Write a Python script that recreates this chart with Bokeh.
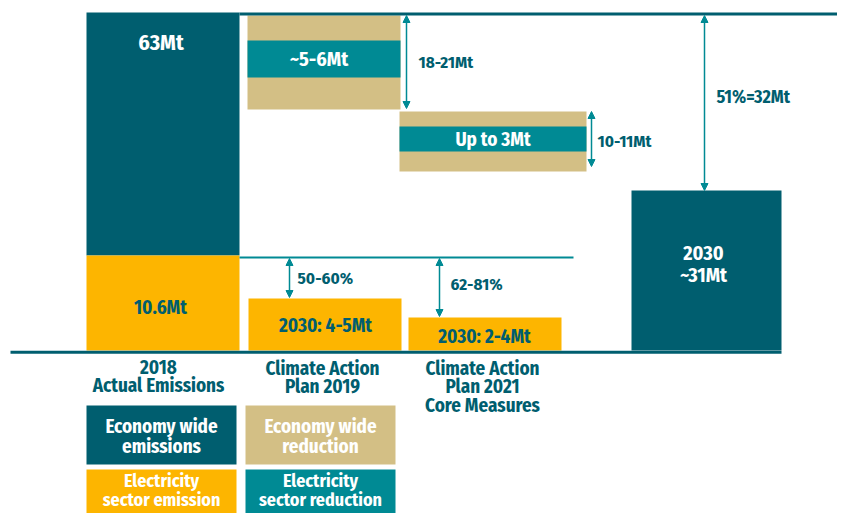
from bokeh.plotting import figure
from bokeh.models import ColumnDataSource, Range1d, Arrow, NormalHead
from bokeh.core.properties import value
from bokeh.embed import file_html
from bokeh.resources import INLINE

# ---------------- data (schematic heights above the baseline) ----------------
categories = ["2018\nActual Emissions", "Climate Action\nPlan 2019",
              "Climate Action\nPlan 2021\nCore Measures"]
economy_2018 = 338          # 63Mt
elec_2018 = 95              # 10.6Mt
reduction_top = [335, 239]  # economy wide reduction (CAP 2019, CAP 2021)
reduction_bottom = [241, 179]
elec_red_top = [310, 224]   # electricity sector reduction band
elec_red_bottom = [273, 199]
target_2030 = 160           # ~31Mt
elec_2030 = [52, 33]        # 2030: 4-5Mt, 2030: 2-4Mt
economy_labels = ["63Mt", "~5-6Mt", "Up to 3Mt", "2030\n~31Mt"]
elec_labels = ["10.6Mt", "2030: 4-5Mt", "2030: 2-4Mt"]
gap_labels = ["18-21Mt", "10-11Mt", "51%=32Mt"]
pct_labels = ["50-60%", "62-81%"]
legend_labels = ["Economy wide\nemissions", "Economy wide\nreduction",
                 "Electricity\nsector emission", "Electricity\nsector reduction"]

# ---------------- styles / layout ----------------
DARK = "#005E6F"
TEAL = "#008A94"
TAN = "#D3BF85"
YEL = "#FDB500"
FONT = value("Fira Sans Condensed")

W, H = 837, 513
p = figure(width=W, height=H, output_backend="svg", toolbar_location=None,
           x_range=Range1d(0, W), y_range=Range1d(350 - H, 350),
           min_border=0, outline_line_color=None, background_fill_color="white",
           border_fill_color="white")
p.axis.visible = False
p.grid.visible = False

# column layout (left, right)
bar18 = (86, 239)
cap_tan = [(247, 400), (399, 586)]
cap_el = [(248, 401), (408, 561)]
bar30 = (631, 781)

# economy bars
p.quad(left=[bar18[0], bar30[0]], right=[bar18[1], bar30[1]],
       bottom=[elec_2018, 0], top=[economy_2018, target_2030],
       fill_color=DARK, line_color=None)
p.quad(left=[c[0] for c in cap_tan], right=[c[1] for c in cap_tan],
       bottom=reduction_bottom, top=reduction_top, fill_color=TAN, line_color=None)
p.quad(left=[c[0] for c in cap_tan], right=[c[1] for c in cap_tan],
       bottom=elec_red_bottom, top=elec_red_top, fill_color=TEAL, line_color=None)
# electricity bars
p.quad(left=[bar18[0]] + [c[0] for c in cap_el], right=[bar18[1]] + [c[1] for c in cap_el],
       bottom=[0, 0, 0], top=[elec_2018] + elec_2030, fill_color=YEL, line_color=None)

# reference lines
p.line([bar18[1], W], [economy_2018 - 1.5] * 2, line_color=DARK, line_width=3)
p.line([bar18[1], 573], [elec_2018 - 2] * 2, line_color=TEAL, line_width=2)
p.line([10, bar30[1]], [-1.7, -1.7], line_color=DARK, line_width=3)

# arrows
top_ref = reduction_top[0]
ax = [406, 591, 704, 289, 439]
ys = [top_ref, reduction_top[1], top_ref, elec_2018 - 3, elec_2018 - 3]
ye = [reduction_bottom[0] + 1, reduction_bottom[1] + 5, target_2030, elec_2030[0] + 1, elec_2030[1] + 1]
asrc = ColumnDataSource(dict(x0=ax, y0=ys, x1=ax, y1=ye))
p.add_layout(Arrow(source=asrc, x_start="x0", y_start="y0", x_end="x1", y_end="y1",
                   line_color=TEAL, line_width=1.5,
                   start=NormalHead(size=7, fill_color=TEAL, line_color=TEAL, line_width=1),
                   end=NormalHead(size=7, fill_color=TEAL, line_color=TEAL, line_width=1)))

# white labels in economy boxes
ex = [(bar18[0] + bar18[1]) / 2 - 2, (cap_tan[0][0] + cap_tan[0][1]) / 2 - 5,
      (cap_tan[1][0] + cap_tan[1][1]) / 2, (bar30[0] + bar30[1]) / 2 - 3]
ey = [economy_2018 - 30, (elec_red_top[0] + elec_red_bottom[0]) / 2,
      (elec_red_top[1] + elec_red_bottom[1]) / 2, target_2030 * 0.54]
p.text(x=ex, y=ey, text=economy_labels, text_color="white", text_font=FONT,
       text_font_style="bold", text_font_size=["22px", "20px", "19px", "20px"],
       text_align="center", text_baseline="middle", text_line_height=0.95)

# electricity labels
lx = [160, 325, 484]
ly = [elec_2018 * 0.45, elec_2030[0] * 0.48, elec_2030[1] * 0.42]
p.text(x=lx, y=ly, text=elec_labels, text_color=DARK, text_font=FONT,
       text_font_style="bold", text_font_size="19px",
       text_align="center", text_baseline="middle")

# gap labels
p.text(x=[418, 597, 716], y=[288, 209, 254], text=gap_labels, text_color=DARK,
       text_font=FONT, text_font_style="bold", text_font_size=["17px", "17px", "18px"],
       text_align="left", text_baseline="middle")
p.text(x=[297, 450], y=[72, 66], text=pct_labels, text_color=DARK,
       text_font=FONT, text_font_style="bold", text_font_size="17px",
       text_align="left", text_baseline="middle")

# category labels
p.text(x=[158, 322, 482], y=[-5, -6, -6], text=categories, text_color=DARK,
       text_font=FONT, text_font_style="bold", text_font_size="19px",
       text_align="center", text_baseline="top", text_line_height=0.82)

# legend boxes
lg_l = [86, 245, 86, 245]
lg_r = [236, 395, 236, 395]
lg_t = [-55, -55, -119, -119]
lg_b = [-114, -114, -180, -180]
p.quad(left=lg_l, right=lg_r, top=lg_t, bottom=lg_b,
       fill_color=[DARK, TAN, YEL, TEAL], line_color=None)
p.text(x=[(a + b) / 2 for a, b in zip(lg_l, lg_r)], y=[-86, -86, -140, -140],
       text=legend_labels, text_color="white", text_font=FONT,
       text_font_style="bold", text_font_size=["19px", "19px", "18px", "18px"],
       text_align="center", text_baseline="middle", text_line_height=0.85)

open("out.html", "w").write(file_html(p, INLINE))
